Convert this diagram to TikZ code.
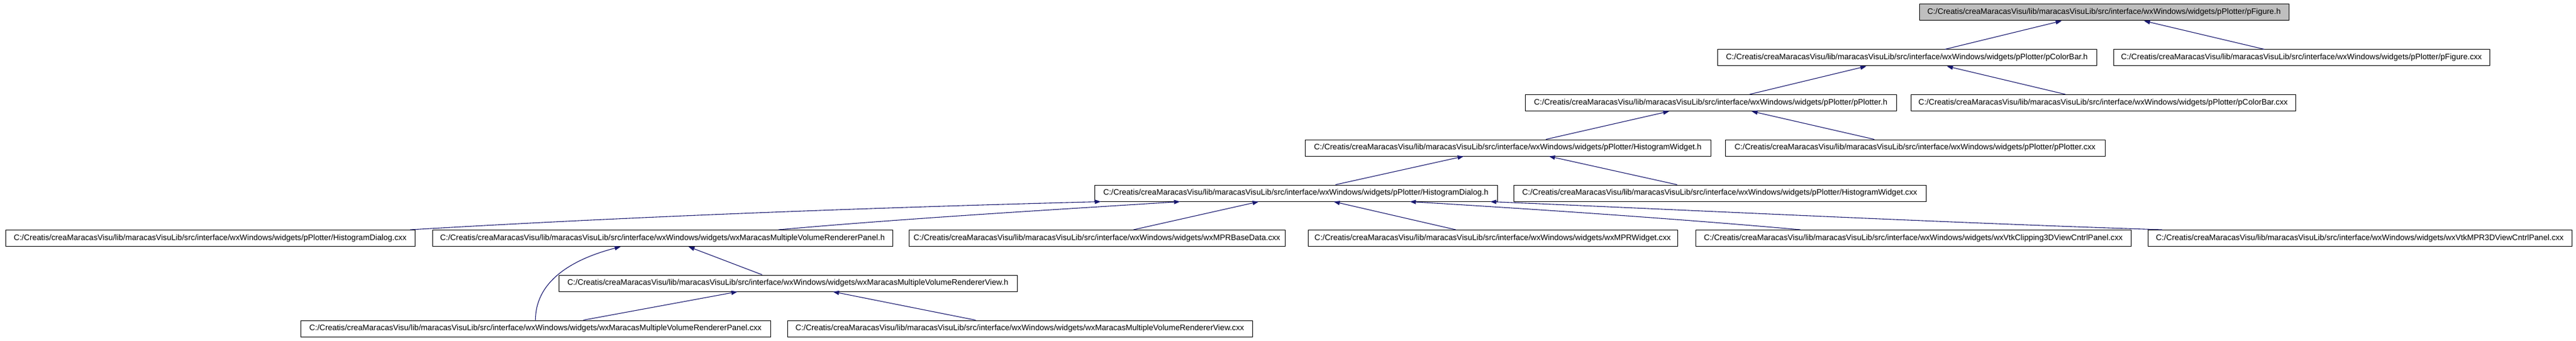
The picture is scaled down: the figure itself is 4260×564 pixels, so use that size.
\documentclass[tikz,border=0pt]{standalone}
\usepackage{fontspec}
\setmainfont{Liberation Sans}
\usetikzlibrary{arrows.meta}
\definecolor{edgeblue}{RGB}{25,25,112}
\definecolor{rootgray}{RGB}{191,191,191}
\newcommand\wpath{C:/Creatis/creaMaracasVisu/lib/maracasVisuLib/src/interface/wxWindows/widgets/}
\begin{document}
\begin{tikzpicture}[x=1pt,y=-1pt,
  file/.style={draw=black,line width=1pt,inner sep=0pt,minimum height=27pt,
    font=\fontsize{13.2}{16}\selectfont,anchor=center,fill=white},
  root/.style={file,fill=rootgray},
  dep/.style={draw=edgeblue,line width=1.1pt,-{Triangle[length=10pt,width=7pt,fill=edgeblue]}}]
\useasboundingbox (0,0) rectangle (4260,564);
\fill[white] (0,0) rectangle (4260,564);

% row 1
\node[root,minimum width=611pt] (pFigH) at (3479.5,20.5) {\wpath pPlotter/pFigure.h};
% row 2
\node[file,minimum width=627pt] (pColorBarH) at (3153.5,95.5) {\wpath pPlotter/pColorBar.h};
\node[file,minimum width=622pt] (pFigureCxx) at (3806,95.5) {\wpath pPlotter/pFigure.cxx};
% row 3
\node[file,minimum width=614pt] (pPlotterH) at (2829,170) {\wpath pPlotter/pPlotter.h};
\node[file,minimum width=636pt] (pColorBarCxx) at (3478,170) {\wpath pPlotter/pColorBar.cxx};
% row 4
\node[file,minimum width=671pt] (HistWidgetH) at (2493.5,244.5) {\wpath pPlotter/HistogramWidget.h};
\node[file,minimum width=628pt] (pPlotterCxx) at (3167,244.5) {\wpath pPlotter/pPlotter.cxx};
% row 5
\node[file,minimum width=666pt] (HistDialogH) at (2143,319.5) {\wpath pPlotter/HistogramDialog.h};
\node[file,minimum width=682pt] (HistWidgetCxx) at (2844,319.5) {\wpath pPlotter/HistogramWidget.cxx};
% row 6
\node[file,minimum width=677pt] (HistDialogCxx) at (347.5,394) {\wpath pPlotter/HistogramDialog.cxx};
\node[file,minimum width=761pt] (PanelH) at (1095.5,394) {\wpath wxMaracasMultipleVolumeRendererPanel.h};
\node[file,minimum width=622pt] (MPRBaseData) at (1814,394) {\wpath wxMPRBaseData.cxx};
\node[file,minimum width=611pt] (MPRWidget) at (2468.5,394) {\wpath wxMPRWidget.cxx};
\node[file,minimum width=720pt] (Clipping) at (3164,394) {\wpath wxVtkClipping3DViewCntrlPanel.cxx};
\node[file,minimum width=701pt] (MPRThreeD) at (3902.5,394) {\wpath wxVtkMPR3DViewCntrlPanel.cxx};
% row 7
\node[file,minimum width=758pt] (ViewH) at (1303,468.5) {\wpath wxMaracasMultipleVolumeRendererView.h};
% row 8
\node[file,minimum width=777pt] (PanelCxx) at (885.5,543.5) {\wpath wxMaracasMultipleVolumeRendererPanel.cxx};
\node[file,minimum width=769pt] (ViewCxx) at (1686.5,543.5) {\wpath wxMaracasMultipleVolumeRendererView.cxx};

% edges
\draw[dep] ([xshift=377pt]pColorBarH.north west) -- ([xshift=236pt]pFigH.south west);
\draw[dep] ([xshift=250pt]pFigureCxx.north west) -- ([xshift=372pt]pFigH.south west);
\draw[dep] ([xshift=372pt]pPlotterH.north west) -- ([xshift=247pt]pColorBarH.south west);
\draw[dep] ([xshift=256pt]pColorBarCxx.north west) -- ([xshift=380pt]pColorBarH.south west);
\draw[dep] ([xshift=399pt]HistWidgetH.north west) -- ([xshift=239pt]pPlotterH.south west);
\draw[dep] ([xshift=247pt]pPlotterCxx.north west) -- ([xshift=375pt]pPlotterH.south west);
\draw[dep] ([xshift=399pt]HistDialogH.north west) -- ([xshift=263pt]HistWidgetH.south west);
\draw[dep] ([xshift=271pt]HistWidgetCxx.north west) -- ([xshift=404pt]HistWidgetH.south west);

\draw[dep] ([xshift=670pt]HistDialogCxx.north west) .. controls +(370,-22) and +(-380,10) .. ([xshift=11pt]HistDialogH.south west);
\draw[dep] ([xshift=573pt]PanelH.north west) .. controls +(200,-18) and +(-220,14) .. ([xshift=142pt]HistDialogH.south west);
\draw[dep] ([xshift=372pt]MPRBaseData.north west) -- ([xshift=272pt]HistDialogH.south west);
\draw[dep] ([xshift=245pt]MPRWidget.north west) -- ([xshift=396pt]HistDialogH.south west);
\draw[dep] ([xshift=174pt]Clipping.north west) .. controls +(-200,-18) and +(200,12) .. ([xshift=522pt]HistDialogH.south west);
\draw[dep] ([xshift=24pt]MPRThreeD.north west) .. controls +(-370,-12) and +(330,14) .. ([xshift=655pt]HistDialogH.south west);

\draw[dep] ([xshift=337pt]ViewH.north west) -- ([xshift=424pt]PanelH.south west);
\draw[dep] ([xshift=389pt]PanelCxx.north west) .. controls +(0,-70) and +(-70,18) .. ([xshift=312pt]PanelH.south west);
\draw[dep] ([xshift=468pt]PanelCxx.north west) -- ([xshift=296pt]ViewH.south west);
\draw[dep] ([xshift=312pt]ViewCxx.north west) -- ([xshift=454pt]ViewH.south west);
\end{tikzpicture}
\end{document}
